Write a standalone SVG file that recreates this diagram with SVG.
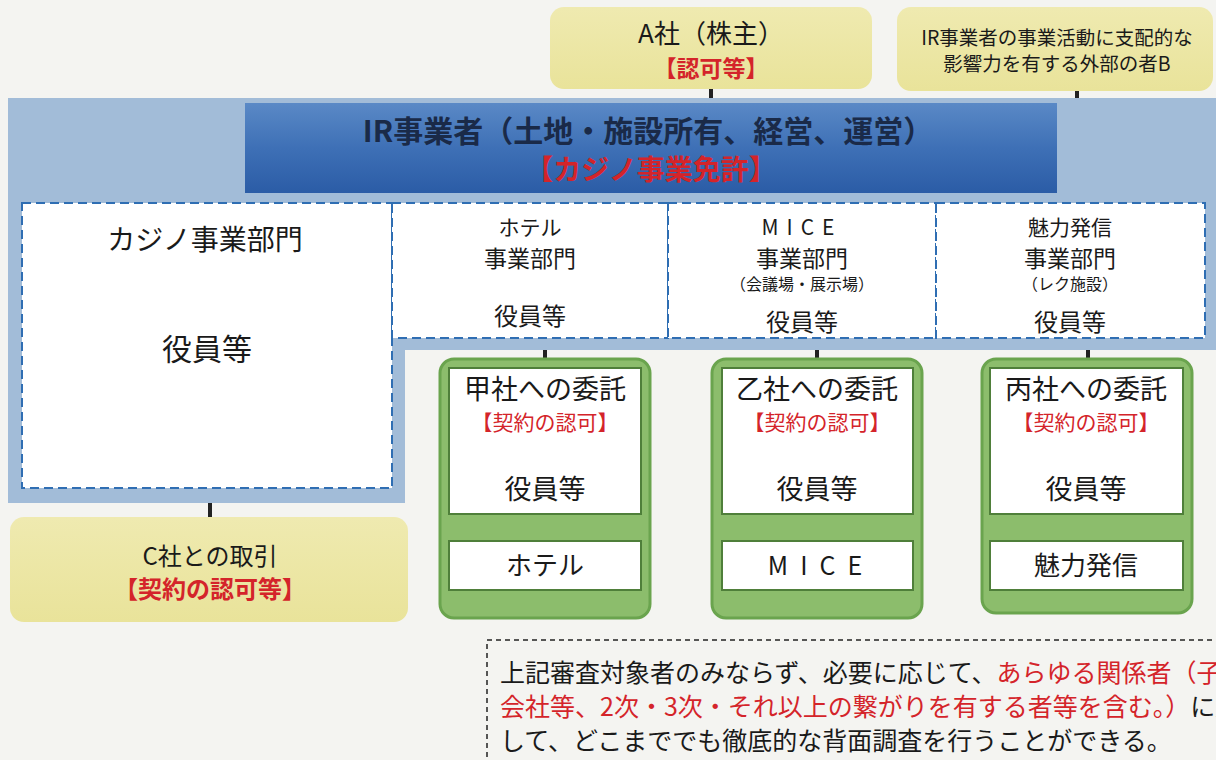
<svg xmlns="http://www.w3.org/2000/svg" width="1216" height="760" viewBox="0 0 1216 760">
<defs>
<style>
text{font-family:"Noto Sans CJK JP","Noto Sans",sans-serif;text-anchor:middle;fill:#1a1a1a}
.red{fill:#d4242a}
.navy{fill:#1a2a48;font-weight:bold}
.yel{fill:url(#yg);stroke:none}
.dash{fill:#ffffff;stroke:#2f6eb3;stroke-width:2;stroke-dasharray:9 5}
.green{fill:#8cbd6c;stroke:#6aa44e;stroke-width:3}
.inner{fill:#ffffff;stroke:#4f7f3a;stroke-width:2}
.conn{stroke:#222;stroke-width:4;fill:none}
</style>
<linearGradient id="yg" x1="0" y1="0" x2="0" y2="1">
<stop offset="0" stop-color="#efeab0"/>
<stop offset="1" stop-color="#e9e39a"/>
</linearGradient>
<linearGradient id="hg" x1="0" y1="0" x2="0" y2="1">
<stop offset="0" stop-color="#5a89c6"/>
<stop offset="0.5" stop-color="#3e70b6"/>
<stop offset="1" stop-color="#2b5ca6"/>
</linearGradient>
</defs>
<rect x="0" y="0" width="1216" height="760" fill="#f4f4f1"/>

<g id="connectors">
<line class="conn" x1="711" y1="88" x2="711" y2="99"/>
<line class="conn" x1="1077" y1="90" x2="1077" y2="99"/>
<line class="conn" x1="545" y1="340" x2="545" y2="360"/>
<line class="conn" x1="817" y1="340" x2="817" y2="360"/>
<line class="conn" x1="1088" y1="340" x2="1088" y2="360"/>
<line class="conn" x1="210" y1="500" x2="210" y2="518"/>
</g>

<g id="nodeA">
<rect class="yel" x="550" y="7" width="322" height="82" rx="14"/>
<text x="711" y="43" font-size="26">A社（株主）</text>
<text x="711" y="77" font-size="23" class="red" font-weight="bold">【認可等】</text>
</g>

<g id="nodeB">
<rect class="yel" x="897" y="7" width="316" height="84" rx="14"/>
<text x="1057" y="45" font-size="19.5">IR事業者の事業活動に支配的な</text>
<text x="1057" y="71" font-size="19.5">影響力を有する外部の者B</text>
</g>

<g id="irFrame">
<path d="M8 98 H1216 V350 H405 V503 H8 Z" fill="#a2bcd8"/>
<rect x="245" y="103" width="812" height="90" fill="url(#hg)"/>
<text x="648" y="142" font-size="30" class="navy">IR事業者（土地・施設所有、経営、運営）</text>
<text x="651" y="180" font-size="28" class="red" font-weight="bold">【カジノ事業免許】</text>
</g>

<g id="casinoDept">
<rect class="dash" x="22" y="203" width="370" height="285"/>
<text x="205" y="250" font-size="28">カジノ事業部門</text>
<text x="207" y="360" font-size="30">役員等</text>
</g>

<g id="hotelDept">
<rect class="dash" x="392" y="203" width="276" height="135"/>
<text x="530" y="235" font-size="21">ホテル</text>
<text x="530" y="267" font-size="23">事業部門</text>
<text x="530" y="325" font-size="24">役員等</text>
</g>

<g id="miceDept">
<rect class="dash" x="668" y="203" width="268" height="135"/>
<text x="802" y="235" font-size="21" letter-spacing="8">MICE</text>
<text x="802" y="267" font-size="23">事業部門</text>
<text x="802" y="290" font-size="16">（会議場・展示場）</text>
<text x="802" y="331" font-size="24">役員等</text>
</g>

<g id="miryokuDept">
<rect class="dash" x="936" y="203" width="269" height="135"/>
<text x="1070" y="235" font-size="21">魅力発信</text>
<text x="1070" y="267" font-size="23">事業部門</text>
<text x="1070" y="290" font-size="16">（レク施設）</text>
<text x="1070" y="331" font-size="24">役員等</text>
</g>

<g id="kou">
<rect class="green" x="440" y="359" width="210" height="259" rx="14"/>
<rect class="inner" x="449" y="368" width="192" height="146"/>
<rect class="inner" x="449" y="541" width="192" height="49"/>
<text x="545" y="399" font-size="27">甲社への委託</text>
<text x="545" y="430" font-size="21" class="red">【契約の認可】</text>
<text x="545" y="499" font-size="27">役員等</text>
<text x="545" y="575" font-size="26">ホテル</text>
</g>

<g id="otsu">
<rect class="green" x="712" y="359" width="210" height="259" rx="14"/>
<rect class="inner" x="722" y="368" width="191" height="146"/>
<rect class="inner" x="722" y="541" width="191" height="49"/>
<text x="817" y="399" font-size="27">乙社への委託</text>
<text x="817" y="430" font-size="21" class="red">【契約の認可】</text>
<text x="817" y="499" font-size="27">役員等</text>
<text x="821" y="575" font-size="25" letter-spacing="12">MICE</text>
</g>

<g id="hei">
<rect class="green" x="982" y="359" width="210" height="254" rx="14"/>
<rect class="inner" x="990" y="368" width="193" height="146"/>
<rect class="inner" x="990" y="541" width="193" height="49"/>
<text x="1086" y="399" font-size="27">丙社への委託</text>
<text x="1086" y="430" font-size="21" class="red">【契約の認可】</text>
<text x="1086" y="499" font-size="27">役員等</text>
<text x="1086" y="575" font-size="26">魅力発信</text>
</g>

<g id="nodeC">
<rect class="yel" x="10" y="517" width="398" height="105" rx="14"/>
<text x="210" y="565" font-size="24">C社との取引</text>
<text x="210" y="598" font-size="24" class="red" font-weight="bold">【契約の認可等】</text>
</g>

<g id="note">
<rect x="487" y="640" width="760" height="140" fill="none" stroke="#222" stroke-width="1.5" stroke-dasharray="5 4"/>
<text x="500" y="682" font-size="25" style="text-anchor:start">上記審査対象者のみならず、必要に応じて、<tspan class="red">あらゆる関係者（子</tspan></text>
<text x="500" y="716" font-size="25" style="text-anchor:start" class="red">会社等、2次・3次・それ以上の繋がりを有する者等を含む。）<tspan style="fill:#1a1a1a">に対</tspan></text>
<text x="500" y="750" font-size="25" style="text-anchor:start">して、どこまででも徹底的な背面調査を行うことができる。</text>
</g>
</svg>
